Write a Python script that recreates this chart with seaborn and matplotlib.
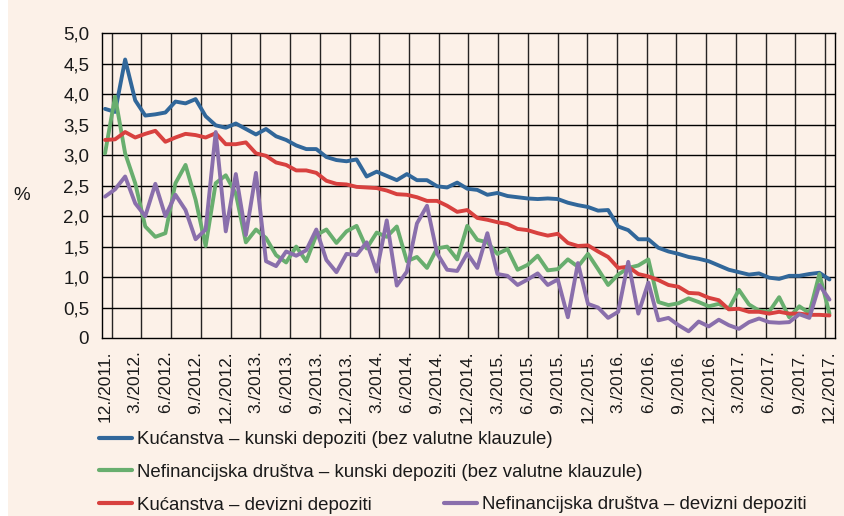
import numpy as np
import pandas as pd
import matplotlib
matplotlib.use("Agg")
import matplotlib.pyplot as plt
import seaborn as sns
from matplotlib.patches import Rectangle
from matplotlib.lines import Line2D

# ---- data -------------------------------------------------------------
tick_labels = ["12./2011.", "3./2012.", "6./2012.", "9./2012.", "12./2012.",
               "3./2013.", "6./2013.", "9./2013.", "12./2013.", "3./2014.",
               "6./2014.", "9./2014.", "12./2014.", "3./2015.", "6./2015.",
               "9./2015.", "12./2015.", "3./2016.", "6./2016.", "9./2016.",
               "12./2016.", "3./2017.", "6./2017.", "9./2017.", "12./2017."]

hh_kuna = [3.76, 3.71, 4.57, 3.90, 3.65, 3.67, 3.70, 3.88, 3.85, 3.92,
           3.64, 3.49, 3.45, 3.52, 3.43, 3.34, 3.43, 3.31, 3.25, 3.16,
           3.10, 3.10, 2.97, 2.92, 2.90, 2.93, 2.65, 2.73, 2.66, 2.59,
           2.69, 2.59, 2.59, 2.49, 2.47, 2.55, 2.45, 2.43, 2.35, 2.38,
           2.33, 2.31, 2.29, 2.28, 2.29, 2.28, 2.22, 2.18, 2.15, 2.09,
           2.10, 1.83, 1.77, 1.62, 1.62, 1.48, 1.42, 1.38, 1.33, 1.30,
           1.26, 1.19, 1.12, 1.08, 1.04, 1.06, 0.99, 0.97, 1.02, 1.02,
           1.05, 1.07, 0.96]

nfc_kuna = [3.03, 3.96, 3.03, 2.54, 1.83, 1.66, 1.72, 2.54, 2.84, 2.27,
            1.51, 2.54, 2.67, 2.37, 1.57, 1.78, 1.64, 1.36, 1.24, 1.50,
            1.26, 1.69, 1.78, 1.56, 1.75, 1.84, 1.47, 1.73, 1.66, 1.83,
            1.26, 1.33, 1.15, 1.47, 1.50, 1.29, 1.84, 1.61, 1.57, 1.38,
            1.46, 1.12, 1.20, 1.35, 1.11, 1.13, 1.29, 1.17, 1.38, 1.13,
            0.87, 1.04, 1.15, 1.19, 1.29, 0.59, 0.54, 0.57, 0.65, 0.59,
            0.52, 0.56, 0.48, 0.79, 0.55, 0.45, 0.43, 0.67, 0.34, 0.52,
            0.41, 1.05, 0.40]

hh_fx = [3.25, 3.26, 3.38, 3.29, 3.35, 3.40, 3.22, 3.29, 3.35, 3.33,
         3.29, 3.36, 3.18, 3.18, 3.21, 3.03, 2.99, 2.88, 2.84, 2.75,
         2.75, 2.71, 2.58, 2.53, 2.52, 2.48, 2.47, 2.46, 2.42, 2.36,
         2.35, 2.31, 2.25, 2.25, 2.17, 2.07, 2.10, 1.97, 1.94, 1.90,
         1.87, 1.79, 1.77, 1.72, 1.68, 1.71, 1.56, 1.51, 1.52, 1.42,
         1.33, 1.15, 1.17, 1.05, 1.01, 0.95, 0.87, 0.84, 0.74, 0.73,
         0.66, 0.62, 0.47, 0.48, 0.43, 0.43, 0.40, 0.43, 0.40, 0.40,
         0.38, 0.38, 0.37]

nfc_fx = [2.32, 2.44, 2.65, 2.21, 2.00, 2.53, 2.00, 2.35, 2.10, 1.62,
          1.78, 3.38, 1.75, 2.69, 1.69, 2.71, 1.26, 1.18, 1.42, 1.35,
          1.44, 1.78, 1.28, 1.08, 1.38, 1.36, 1.57, 1.09, 1.93, 0.86,
          1.09, 1.88, 2.17, 1.39, 1.12, 1.10, 1.39, 1.15, 1.72, 1.05,
          1.02, 0.87, 0.96, 1.06, 0.87, 0.96, 0.34, 1.23, 0.56, 0.50,
          0.33, 0.43, 1.25, 0.40, 0.91, 0.29, 0.33, 0.21, 0.11, 0.27,
          0.19, 0.30, 0.21, 0.15, 0.26, 0.32, 0.26, 0.25, 0.26, 0.39,
          0.33, 0.87, 0.63]

series_names = ["Kućanstva – kunski depoziti (bez valutne klauzule)",
                "Nefinancijska društva – kunski depoziti (bez valutne klauzule)",
                "Kućanstva – devizni depoziti",
                "Nefinancijska društva – devizni depoziti"]
colors = ["#31679A", "#68AE6E", "#D8413F", "#8A6FAC"]

n = len(hh_kuna)
df = pd.DataFrame({"t": np.arange(n),
                   series_names[0]: hh_kuna,
                   series_names[1]: nfc_kuna,
                   series_names[2]: hh_fx,
                   series_names[3]: nfc_fx})
long = df.melt(id_vars="t", var_name="serija", value_name="v")

# ---- style ------------------------------------------------------------
sns.set_theme(style="white")
bg = "#FCF1E8"
plt.rcParams["font.family"] = ["Liberation Sans", "DejaVu Sans"]

fig = plt.figure(figsize=(8.45, 5.16), dpi=100, facecolor=bg)
fig.patches.append(Rectangle((0, 0), 8 / 845, 1, transform=fig.transFigure,
                             facecolor="white", edgecolor="none", zorder=0))
ax = fig.add_axes([101.7 / 845, 1 - 338 / 516, (835 - 101.7) / 845, (338 - 33.3) / 516])
ax.set_facecolor(bg)

# grid
for yv in np.arange(0.5, 5.0, 0.5):
    ax.axhline(yv, color="black", lw=1.0, zorder=1)
for xv in np.linspace(0.67, 71.56, 25):
    ax.axvline(xv, color="black", lw=1.0, zorder=1, alpha=0.85)

sns.lineplot(data=long, x="t", y="v", hue="serija", hue_order=series_names,
             palette=colors, linewidth=2.8, ax=ax, legend=False, zorder=3)

ax.set_xlim(-0.33, 72.55)
ax.set_ylim(0, 5.0)
yt = np.arange(0, 5.01, 0.5)
ax.set_yticks(yt)
ax.set_yticklabels(["0" if v == 0 else f"{v:.1f}".replace(".", ",") for v in yt],
                   fontsize=13.5)
ax.set_xticks(np.arange(0, n, 3))
ax.set_xticklabels(tick_labels, rotation=90, fontsize=12.5)
ax.tick_params(axis="both", length=0, pad=9, colors="#1a1a1a")
ax.set_xlabel("")
ax.set_ylabel("")
for s in ax.spines.values():
    s.set_color("black")
    s.set_linewidth(1.0)

fig.text(22 / 845, 1 - 195 / 516, "%", fontsize=13.5, ha="center", va="center",
         color="#1a1a1a")

# legends
handles = [Line2D([], [], color=c, lw=3) for c in colors]
leg1 = fig.legend(handles[:3], series_names[:3], loc="upper left",
                  bbox_to_anchor=(99 / 845, 1 - 431 / 516), frameon=False,
                  fontsize=13.4, handlelength=1.75, handletextpad=0.3,
                  labelspacing=0.85, borderpad=0, borderaxespad=0)
leg2 = fig.legend(handles[3:], series_names[3:], loc="upper left",
                  bbox_to_anchor=(444 / 845, 1 - 496 / 516), frameon=False,
                  fontsize=13.4, handlelength=1.75, handletextpad=0.3,
                  borderpad=0, borderaxespad=0)
for lg in (leg1, leg2):
    for t in lg.get_texts():
        t.set_color("#1a1a1a")

fig.savefig("out.png", dpi=100, facecolor=bg)
